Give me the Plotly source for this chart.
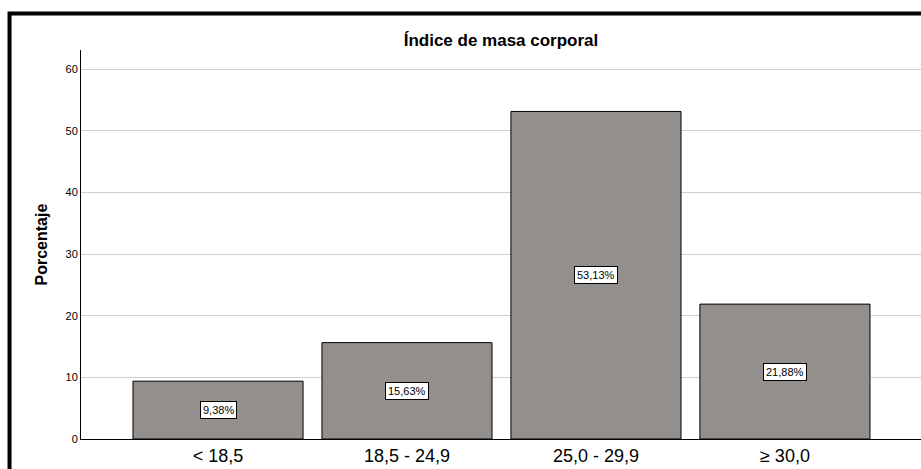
import plotly.graph_objects as go

categories = ["< 18,5", "18,5 - 24,9", "25,0 - 29,9", "≥ 30,0"]
percentages = [9.38, 15.63, 53.13, 21.88]
bar_labels = ["9,38%", "15,63%", "53,13%", "21,88%"]
y_ticks = [0, 10, 20, 30, 40, 50, 60]

FONT = "Liberation Sans, Arial, sans-serif"

fig = go.Figure(go.Bar(x=list(range(len(categories))),
                       y=percentages,
                       width=0.9,
                       marker_color="#938f8d",
                       marker_line_color="black",
                       marker_line_width=1,
                       hoverinfo="skip",
                       showlegend=False))

# value boxes in the middle of each bar
for i, (v, lab) in enumerate(zip(percentages, bar_labels)):
    fig.add_annotation(x=i, y=v / 2, text=lab, showarrow=False,
                       font=dict(family=FONT, size=11, color="black"),
                       bgcolor="white", bordercolor="black", borderwidth=1, borderpad=2)

# y axis title
fig.add_annotation(x=-0.0476, y=0.5, xref="paper", yref="paper", text="<b>Porcentaje</b>",
                   textangle=-90, showarrow=False, xanchor="center", yanchor="middle",
                   font=dict(family=FONT, size=16, color="black"))

# outer frame
fig.add_shape(type="rect", xref="paper", yref="paper",
              x0=-0.0851, x1=1.2, y0=-0.3, y1=1.0938,
              line=dict(color="black", width=4), fillcolor="rgba(0,0,0,0)", layer="above")

fig.update_layout(
    width=921, height=469,
    margin=dict(l=81, r=0, t=50, b=30),
    plot_bgcolor="white", paper_bgcolor="white",
    font=dict(family=FONT, color="black"),
    title=dict(text="<b>Índice de masa corporal</b>", x=0.5, xref="paper", xanchor="center",
               y=1 - 40 / 469, yanchor="middle", font=dict(size=17)),
    xaxis=dict(range=[-0.725, 3.72], tickvals=list(range(len(categories))), ticktext=categories,
               showgrid=False, showline=True, linecolor="black", linewidth=1, ticks="",
               tickfont=dict(size=18), zeroline=False, fixedrange=True),
    yaxis=dict(range=[0, 63.1], tickvals=y_ticks, showgrid=True, gridcolor="#cfcfcf",
               gridwidth=1, showline=True, linecolor="black", linewidth=1, ticks="",
               tickfont=dict(size=11), zeroline=False, fixedrange=True),
)

fig.write_html("out.html", config={"displayModeBar": False},
               post_script="document.body.style.margin='0';document.body.style.overflow='hidden';")
